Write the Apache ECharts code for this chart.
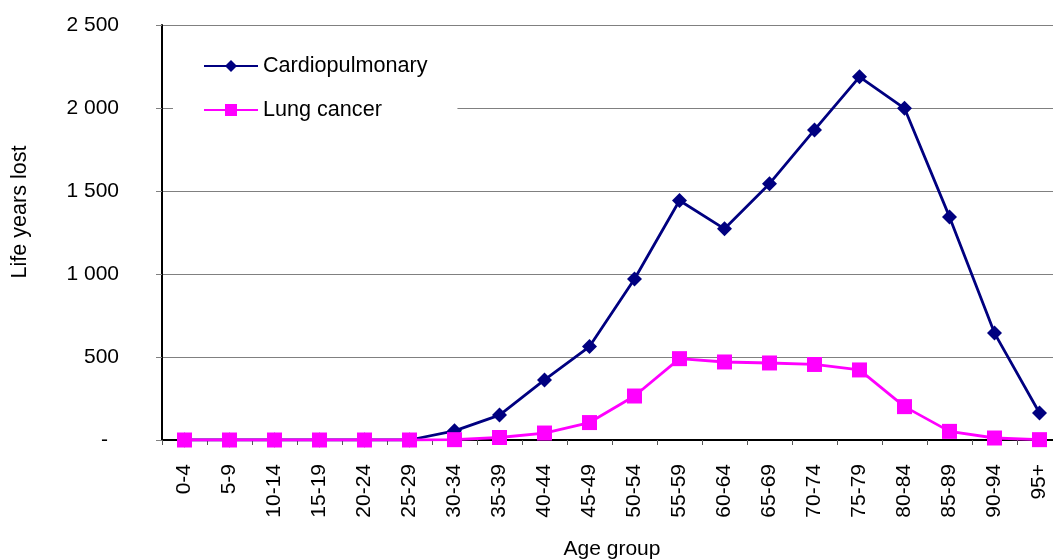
<!DOCTYPE html>
<html>
<head>
<meta charset="utf-8">
<script src="https://cdn.jsdelivr.net/npm/echarts@6/dist/echarts.min.js"></script>
<style>
  html, body { margin: 0; padding: 0; background: #fff; }
  #chart { width: 1053px; height: 559px; }
</style>
</head>
<body>
<div id="chart"></div>
<script>
const ageGroups = ["0-4", "5-9", "10-14", "15-19", "20-24", "25-29", "30-34", "35-39", "40-44", "45-49",
  "50-54", "55-59", "60-64", "65-69", "70-74", "75-79", "80-84", "85-89", "90-94", "95+"];
const cardiopulmonary = [0, 0, 0, 0, 0, 0, 55, 150, 362, 563, 970, 1443, 1272, 1544, 1868, 2188, 1998, 1344, 644, 163];
const lungCancer = [0, 0, 0, 0, 0, 0, 2, 15, 42, 105, 265, 490, 470, 464, 455, 422, 201, 52, 12, 2];

const FONT = "'Liberation Sans', Arial, sans-serif";
const FS = 21;
const FS_BIG = 21.6;

const chart = echarts.init(document.getElementById("chart"));

// "2 500" style thousands; zero shows as a dash (Excel accounting format)
const fmtThousands = (v) => {
  if (v === 0) return "{dash|-}";
  return String(v).replace(/\B(?=(\d{3})+(?!\d))/g, " ");
};

chart.setOption({
  animation: false,
  textStyle: { fontFamily: FONT },
  grid: {
    left: 162,
    top: 25,
    width: 900,
    height: 415,
    outerBoundsMode: "none"
  },
  legend: {
    orient: "vertical",
    left: 173,
    top: 35,
    padding: [20, 30, 20, 30],
    backgroundColor: "#fff",
    itemWidth: 54,
    itemHeight: 15,
    itemGap: 22,
    textStyle: { color: "#000", fontSize: FS_BIG, fontFamily: FONT },
    data: ["Cardiopulmonary", "Lung cancer"]
  },
  graphic: [
    {
      type: "text",
      x: 20,
      y: 212,
      rotation: Math.PI / 2,
      style: {
        text: "Life years lost",
        fill: "#000",
        font: `${FS_BIG}px ${FONT}`,
        textAlign: "center",
        textVerticalAlign: "middle"
      }
    }
  ],
  xAxis: {
    type: "category",
    data: ageGroups,
    boundaryGap: true,
    name: "Age group",
    nameLocation: "middle",
    nameGap: 99,
    nameTextStyle: { color: "#000", fontSize: FS, fontFamily: FONT },
    axisLine: { lineStyle: { color: "#000", width: 2 } },
    axisTick: { show: true, length: 5, lineStyle: { color: "#555" } },
    axisLabel: {
      interval: 0,
      rotate: 90,
      margin: 24,
      color: "#000",
      fontSize: FS,
      fontFamily: FONT
    },
    splitLine: { show: false }
  },
  yAxis: {
    type: "value",
    min: 0,
    max: 2500,
    interval: 500,
    axisLine: { show: true, lineStyle: { color: "#000", width: 2 } },
    axisTick: { show: true, length: 6, lineStyle: { color: "#808080" } },
    axisLabel: {
      margin: 43,
      color: "#000",
      fontSize: FS,
      fontFamily: FONT,
      formatter: fmtThousands,
      rich: {
        dash: { fontSize: FS, fontFamily: FONT, color: "#000", padding: [0, 11, 0, 0] }
      }
    },
    splitLine: { show: true, lineStyle: { color: "#808080", width: 1 } }
  },
  series: [
    {
      name: "Cardiopulmonary",
      type: "line",
      data: cardiopulmonary,
      symbol: "diamond",
      symbolSize: 15,
      lineStyle: { color: "#000080", width: 2.8 },
      itemStyle: { color: "#000080" }
    },
    {
      name: "Lung cancer",
      type: "line",
      data: lungCancer,
      symbol: "rect",
      symbolSize: 15,
      lineStyle: { color: "#ff00ff", width: 2.8 },
      itemStyle: { color: "#ff00ff" }
    }
  ]
});
</script>
</body>
</html>
